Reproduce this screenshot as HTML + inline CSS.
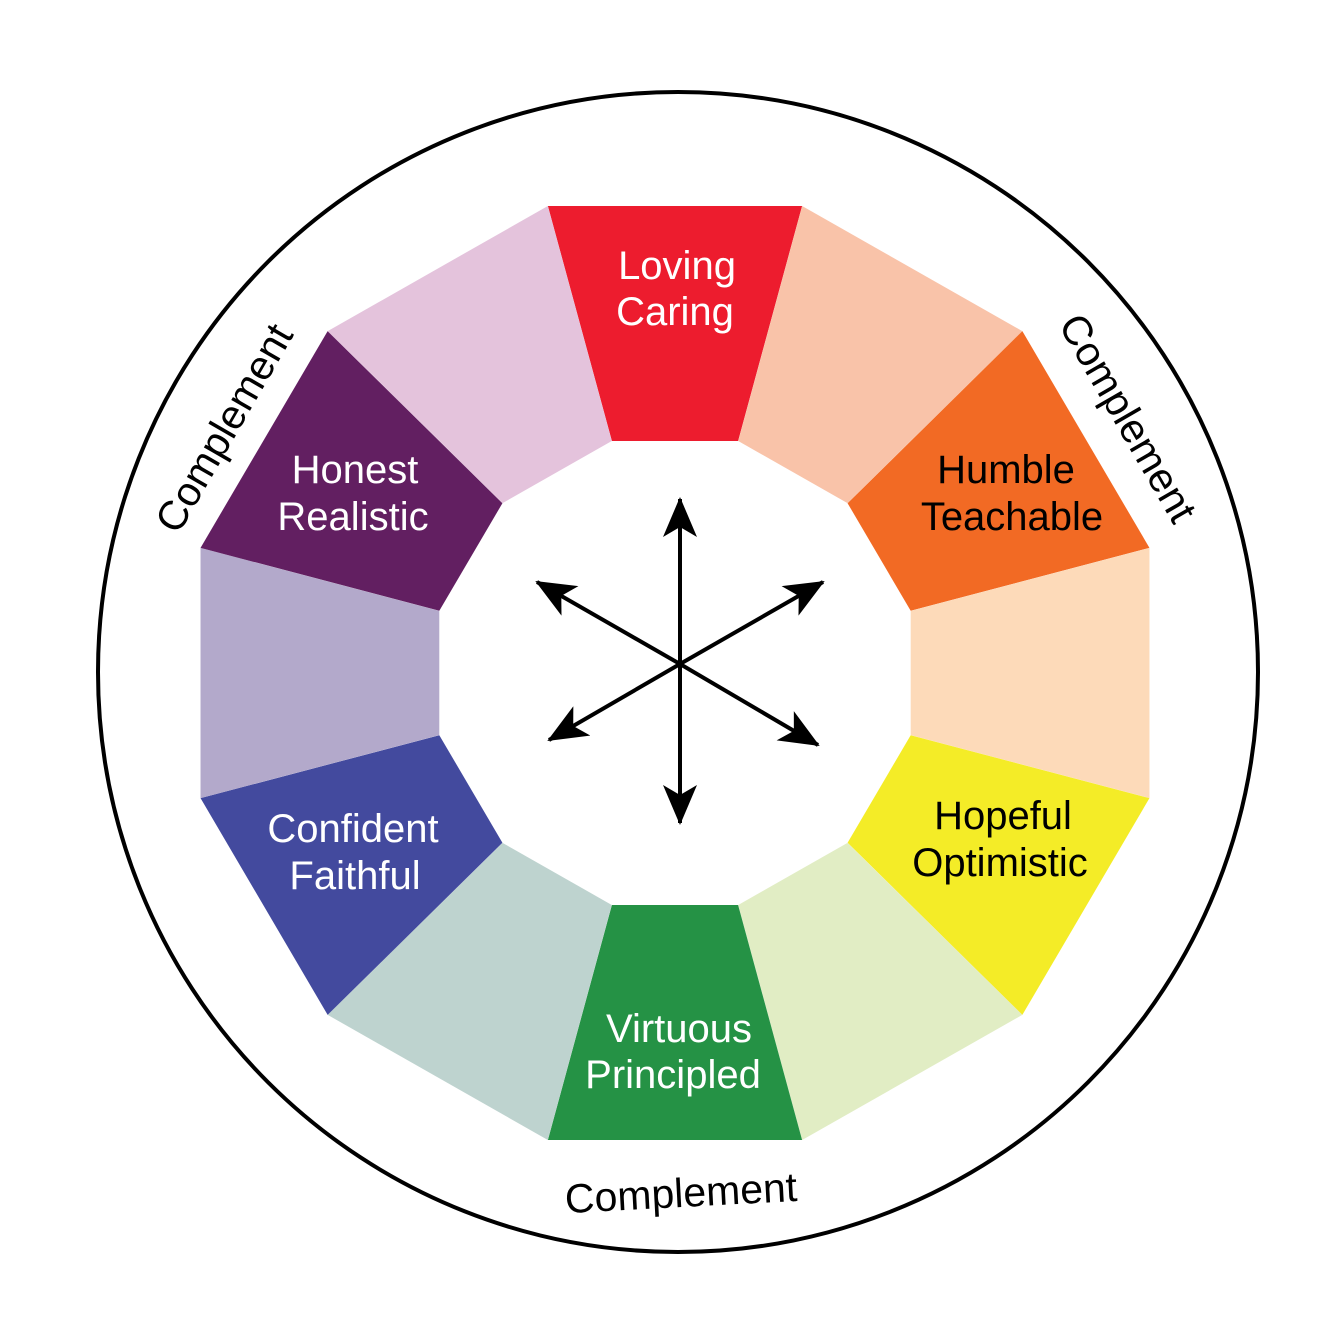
<!DOCTYPE html>
<html><head><meta charset="utf-8"><style>html,body{margin:0;padding:0;background:#fff}svg{display:block}</style></head>
<body>
<svg width="1334" height="1337" viewBox="0 0 1334 1337" xmlns="http://www.w3.org/2000/svg" font-family="Liberation Sans, sans-serif">
<defs>
<marker id="ah" viewBox="0 0 40 34" refX="38" refY="17" markerWidth="40" markerHeight="34" markerUnits="userSpaceOnUse" orient="auto">
<path d="M0,0 L40,17 L0,34 L10,17 Z" fill="#000"/>
</marker>
</defs>
<circle cx="678" cy="672" r="580" fill="none" stroke="#000" stroke-width="4"/>
<g transform="translate(675,673) scale(1.016,1)">
<polygon points="-125.1,-467 125.1,-467 62.1,-232 -62.1,-232" fill="#ED1C2E"/>
<polygon transform="rotate(30)" points="-125.1,-467 125.1,-467 62.1,-232 -62.1,-232" fill="#F9C3A9"/>
<polygon transform="rotate(60)" points="-125.1,-467 125.1,-467 62.1,-232 -62.1,-232" fill="#F26A24"/>
<polygon transform="rotate(90)" points="-125.1,-467 125.1,-467 62.1,-232 -62.1,-232" fill="#FDDAB9"/>
<polygon transform="rotate(120)" points="-125.1,-467 125.1,-467 62.1,-232 -62.1,-232" fill="#F4EC27"/>
<polygon transform="rotate(150)" points="-125.1,-467 125.1,-467 62.1,-232 -62.1,-232" fill="#E1EDC4"/>
<polygon transform="rotate(180)" points="-125.1,-467 125.1,-467 62.1,-232 -62.1,-232" fill="#259245"/>
<polygon transform="rotate(210)" points="-125.1,-467 125.1,-467 62.1,-232 -62.1,-232" fill="#BED3CF"/>
<polygon transform="rotate(240)" points="-125.1,-467 125.1,-467 62.1,-232 -62.1,-232" fill="#434A9E"/>
<polygon transform="rotate(270)" points="-125.1,-467 125.1,-467 62.1,-232 -62.1,-232" fill="#B3A9CB"/>
<polygon transform="rotate(300)" points="-125.1,-467 125.1,-467 62.1,-232 -62.1,-232" fill="#621F61"/>
<polygon transform="rotate(330)" points="-125.1,-467 125.1,-467 62.1,-232 -62.1,-232" fill="#E4C3DC"/>
</g>
<g stroke="#000" stroke-width="4" marker-end="url(#ah)">
<line x1="680" y1="664" x2="680" y2="499"/>
<line x1="680" y1="664" x2="680" y2="823"/>
<line x1="680" y1="664" x2="537" y2="582"/>
<line x1="680" y1="664" x2="823" y2="582"/>
<line x1="680" y1="664" x2="549" y2="740"/>
<line x1="680" y1="664" x2="818" y2="745"/>
</g>
<g font-size="40" text-anchor="middle">
<text x="677" y="279" fill="#fff">Loving</text>
<text x="675" y="325" fill="#fff">Caring</text>
<text x="1006" y="483" fill="#000">Humble</text>
<text x="1012" y="530" fill="#000">Teachable</text>
<text x="1003" y="829" fill="#000">Hopeful</text>
<text x="1000" y="876" fill="#000">Optimistic</text>
<text x="679" y="1042" fill="#fff">Virtuous</text>
<text x="673" y="1088" fill="#fff">Principled</text>
<text x="353" y="842" fill="#fff">Confident</text>
<text x="355" y="889" fill="#fff">Faithful</text>
<text x="355" y="483" fill="#fff">Honest</text>
<text x="353" y="530" fill="#fff">Realistic</text>
</g>
<g font-size="41" text-anchor="middle" fill="#000">
<text transform="translate(224,428) rotate(-60)" dominant-baseline="central">Complement</text>
<text transform="translate(1128,418) rotate(60)" dominant-baseline="central">Complement</text>
<text transform="translate(681,1193) rotate(-3)" dominant-baseline="central">Complement</text>
</g>
</svg>
</body></html>
